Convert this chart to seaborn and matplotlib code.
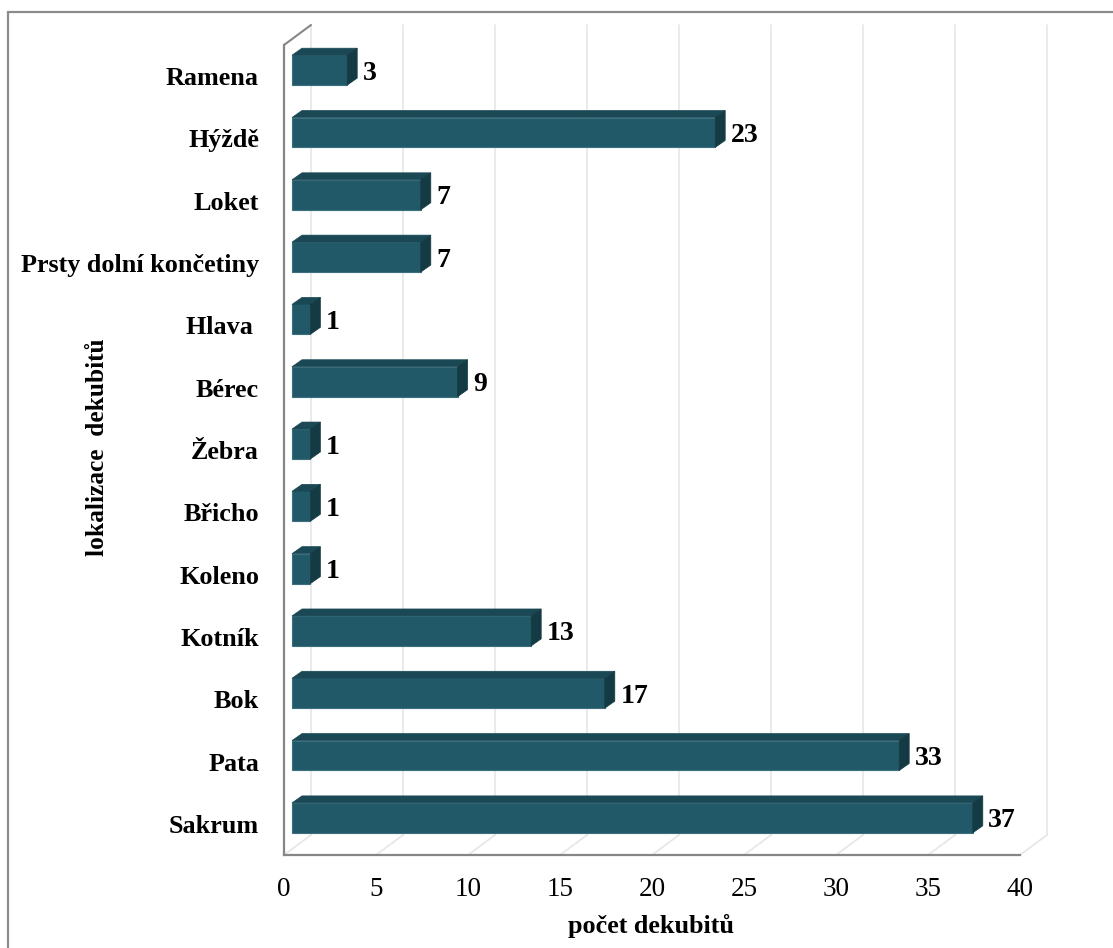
import numpy as np
import pandas as pd
import matplotlib
matplotlib.use("Agg")
import matplotlib.pyplot as plt
import matplotlib.transforms as mtransforms
from matplotlib.patches import Polygon, Rectangle
from matplotlib.lines import Line2D
import seaborn as sns

# Pressure ulcer locations (top to bottom) and their counts
locations = ["Ramena", "Hýždě", "Loket", "Prsty dolní končetiny", "Hlava ",
             "Bérec", "Žebra", "Břicho", "Koleno", "Kotník", "Bok", "Pata", "Sakrum"]
counts = [3, 23, 7, 7, 1, 9, 1, 1, 1, 13, 17, 33, 37]
x_ticks = [0, 5, 10, 15, 20, 25, 30, 35, 40]
x_title = "počet dekubitů"
y_title = "lokalizace  dekubitů"

df = pd.DataFrame({"lokalizace": locations, "pocet": counts})

sns.set_style("white")
plt.rcParams["font.family"] = ["Liberation Serif", "DejaVu Serif"]
plt.rcParams["text.color"] = "black"
plt.rcParams["axes.labelcolor"] = "black"

W, H, DPI = 1113, 948, 100
fig = plt.figure(figsize=(W / DPI, H / DPI), dpi=DPI)
ax = fig.add_axes([284 / W, (H - 855) / H, 736 / W, 810 / H])

FRONT = "#215968"
TOP = "#1a4855"
SIDE = "#143a44"
AXIS = "#868686"
GRID = "#e6e6e6"

sns.barplot(data=df, x="pocet", y="lokalizace", orient="h", color=FRONT,
            saturation=1, width=0.48, ax=ax, edgecolor="#3c6f7d", linewidth=0.8,
            zorder=3)
ax.set_xlim(0, 40)
ax.set_ylim(len(locations) - 0.5, -0.5)
fig.canvas.draw()


def shift(x, y, dxpx, dypx):
    """Move a data point by a pixel offset (up is positive) and return data coords."""
    px, py = ax.transData.transform((x, y))
    return tuple(ax.transData.inverted().transform((px + dxpx, py + dypx)))


# 3D box depth (pixels)
WALL = (27, 20)
BAR_FRONT = (8, 6)
BAR_BACK = (18, 13)

ybot, ytop = ax.get_ylim()
# back wall gridlines and floor diagonals
for t in x_ticks:
    p_top = shift(t, ytop, *WALL)
    p_bot = shift(t, ybot, *WALL)
    ax.add_line(Line2D([p_top[0], p_bot[0]], [p_top[1], p_bot[1]], color=GRID,
                       lw=1.2, clip_on=False, zorder=0))
    ax.add_line(Line2D([t, p_bot[0]], [ybot, p_bot[1]], color=GRID,
                       lw=1.2, clip_on=False, zorder=0))

# top-left edge of the side wall
p = shift(0, ytop, *WALL)
ax.add_line(Line2D([0, p[0]], [ytop, p[1]], color=AXIS, lw=1.5,
                   clip_on=False, zorder=1))

# bars: move front faces into depth and add top / side faces
offset = mtransforms.ScaledTranslation(BAR_FRONT[0] / DPI, BAR_FRONT[1] / DPI,
                                       fig.dpi_scale_trans)
bars = list(ax.patches)
for bar, val in zip(bars, counts):
    bar.set_transform(ax.transData + offset)
    bar.set_clip_on(False)
    x0, x1 = bar.get_x(), bar.get_x() + bar.get_width()
    y_a, y_b = bar.get_y(), bar.get_y() + bar.get_height()
    y_up, y_dn = min(y_a, y_b), max(y_a, y_b)  # inverted axis: smaller is higher
    f = lambda x, y: shift(x, y, *BAR_FRONT)
    b = lambda x, y: shift(x, y, *BAR_BACK)
    top = Polygon([f(x0, y_up), f(x1, y_up), b(x1, y_up), b(x0, y_up)],
                  closed=True, fc=TOP, ec=TOP, lw=0.5, zorder=3, clip_on=False)
    side = Polygon([f(x1, y_up), f(x1, y_dn), b(x1, y_dn), b(x1, y_up)],
                   closed=True, fc=SIDE, ec=SIDE, lw=0.5, zorder=3, clip_on=False)
    ax.add_patch(top)
    ax.add_patch(side)
    yc = (y_up + y_dn) / 2
    ax.annotate(f"{val}", xy=(x1, yc), xytext=((BAR_BACK[0] + 5.5) * 0.72, BAR_FRONT[1] * 0.72),
                textcoords="offset points", ha="left", va="center_baseline",
                fontsize=20, fontweight="bold", color="black", annotation_clip=False)

# axes styling
for s in ["top", "right"]:
    ax.spines[s].set_visible(False)
for s in ["left", "bottom"]:
    ax.spines[s].set_color(AXIS)
    ax.spines[s].set_linewidth(1.6)
    ax.spines[s].set_zorder(4)

ax.set_xticks(x_ticks)
ax.set_xticklabels([str(t) for t in x_ticks])
ax.tick_params(axis="x", direction="out", length=4.5, width=1.5, color=AXIS,
               pad=11, labelsize=19.5, labelcolor="black")
ax.set_yticks(np.arange(len(locations)), minor=False)
ax.set_yticklabels(locations)
ax.set_yticks(np.arange(-0.5, len(locations), 1), minor=True)
ax.tick_params(axis="y", which="major", length=0, pad=18, labelsize=18.8,
               labelcolor="black")
ax.tick_params(axis="y", which="minor", direction="out", length=5, width=1.5,
               color=AXIS)
for lbl in ax.get_yticklabels():
    lbl.set_fontweight("bold")

ax.set_xlabel(x_title, fontsize=18.8, fontweight="bold", color="black")
ax.xaxis.label.set_va("baseline")
ax.xaxis.set_label_coords(0.499, (855 - 933) / 810)
ax.set_ylabel(y_title, fontsize=18.3, fontweight="bold", color="black")
ax.yaxis.label.set_va("center")
ax.yaxis.set_label_coords((98 - 284) / 736, 0.504)
ax.grid(False)
ax.set_facecolor("none")

# outer chart frame
fig.add_artist(Rectangle((8 / W, -0.1), 1.2, (H - 12) / H + 0.1,
                         transform=fig.transFigure, fill=False,
                         ec="#8c8c8c", lw=1.6))

fig.savefig("out.png", dpi=DPI, facecolor="white")
